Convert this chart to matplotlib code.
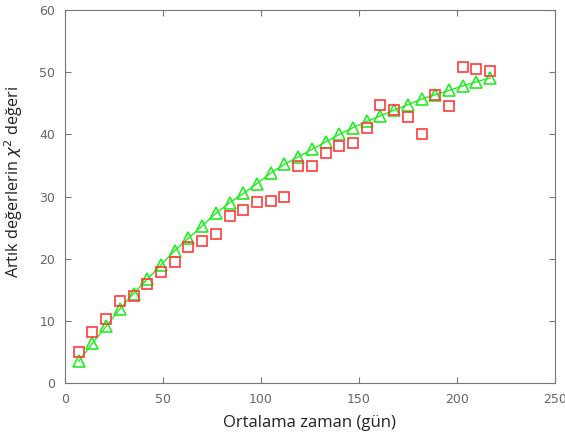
import matplotlib
matplotlib.use("Agg")
import matplotlib.pyplot as plt

# time axis (days), observed and model chi^2 values
days = [7, 14, 21, 28, 35, 42, 49, 56, 63, 70, 77, 84, 91, 98, 105, 112,
        119, 126, 133, 140, 147, 154, 161, 168, 175, 182, 189, 196, 203, 210, 217]
observed = [5.0, 8.2, 10.3, 13.2, 14.0, 16.0, 17.8, 19.5, 21.9, 22.9, 24.0, 26.9,
            27.9, 29.2, 29.3, 29.9, 34.9, 34.9, 37.0, 38.1, 38.7, 41.1, 44.8,
            43.9, 42.8, 40.0, 46.4, 44.6, 50.9, 50.5, 50.2]
model = [3.5, 6.4, 9.1, 11.9, 14.4, 16.7, 19.0, 21.3, 23.3, 25.3, 27.3, 29.0,
         30.5, 32.1, 33.8, 35.2, 36.4, 37.6, 38.8, 40.0, 41.1, 42.1, 43.0,
         43.9, 44.8, 45.7, 46.4, 47.1, 47.8, 48.5, 49.1]

xticks = [0, 50, 100, 150, 200, 250]
yticks = [0, 10, 20, 30, 40, 50, 60]

fig = plt.figure(figsize=(5.65, 4.37), dpi=100)
ax = fig.add_axes([0.115, 0.1236, 0.867, 0.853])

ax.plot(days, model, color="#22ee22", lw=1.0, marker="^", markersize=9,
        markerfacecolor="none", markeredgecolor="#22ee22", markeredgewidth=1.2)
ax.plot(days, observed, ls="none", marker="s", markersize=6.5,
        markerfacecolor="none", markeredgecolor="#ff3b3b", markeredgewidth=1.2)

ax.set_xlim(0, 250)
ax.set_ylim(0, 60)
ax.set_xticks(xticks)
ax.set_yticks(yticks)
ax.tick_params(direction="in", top=True, right=True, length=4, color="#777777",
               labelcolor="#666666", labelsize=9, pad=7)
for s in ax.spines.values():
    s.set_color("#777777")

ax.set_xlabel("Ortalama zaman (gün)", fontsize=12, family="Open Sans", color="#222222")
ax.set_ylabel("Artık değerlerin $\\chi^2$ değeri", fontsize=11.7, family="Open Sans",
              color="#222222")
ax.xaxis.set_label_coords(0.5, -0.086)
ax.yaxis.set_label_coords(-0.082, 0.54)

fig.savefig("out.png")
